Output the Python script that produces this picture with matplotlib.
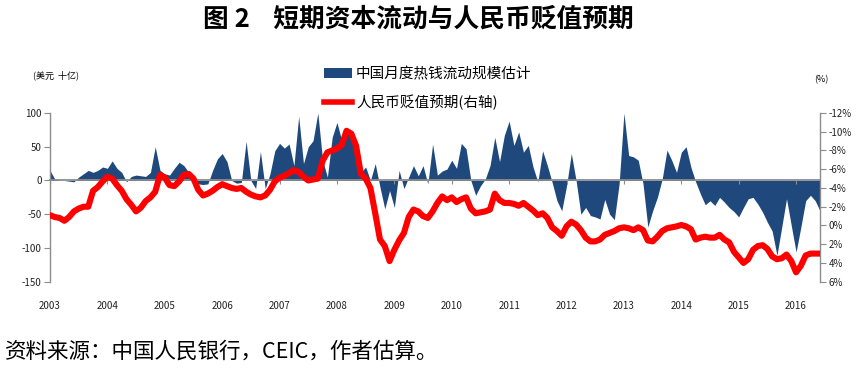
import matplotlib
matplotlib.use("Agg")
import matplotlib.pyplot as plt
from matplotlib.patches import Patch
from matplotlib.lines import Line2D
import numpy as np

plt.rcParams['font.family'] = ['Noto Sans CJK SC', 'DejaVu Sans']
plt.rcParams['axes.unicode_minus'] = False

# ---------------- data (monthly, Jan 2003 - Jun 2016) ----------------
start_year = 2003
hot_money = [
    15, 2, 0, 0, -1, -2, 5, 10, 15, 12, 15, 20,
    18, 29, 18, 12, -2, 6, 8, 7, 6, 12, 50, 15,
    10, 8, 18, 27, 22, 12, 0, -5, -6, -5, 15, 32,
    40, 28, 0, -4, -3, 58, 0, -12, 43, -12, 10, 44,
    55, 48, 54, 22, 95, 25, 50, 59, 100, 30, 5, 64,
    86, 59, 70, 66, 44, 12, 20, 0, 25, -10, -42, -15,
    -40, 15, -12, 5, 22, 7, 22, -5, 54, 8, 14, 17,
    30, 18, 55, 47, 0, -22, -8, 2, 22, 64, 28, 67,
    88, 52, 72, 42, 52, 20, -2, 44, 22, -3, -30, -45,
    -8, 40, 0, -50, -40, -52, -54, -57, -28, -50, -58, -5,
    100, 37, 35, 30, -5, -69, -45, -25, 2, 45, 30, 12,
    42, 50, 20, -2, -20, -36, -30, -37, -25, -32, -40, -46,
    -54, -40, -27, -25, -35, -47, -62, -75, -111, -69, -27, -67,
    -106, -69, -30, -22, -30, -45,
]
rmb_expect = [
    -1.1, -0.9, -0.8, -0.5, -0.9, -1.5, -1.8, -2.0, -2.0, -3.7, -4.1, -4.7,
    -5.2, -5.0, -4.3, -3.7, -2.8, -2.2, -1.5, -1.9, -2.6, -3.0, -3.6, -5.4,
    -5.1, -4.3, -4.2, -4.7, -5.4, -5.5, -5.0, -3.8, -3.2, -3.4, -3.7, -4.1,
    -4.4, -4.2, -4.0, -3.9, -4.0, -3.6, -3.3, -3.1, -3.0, -3.2, -3.8, -4.7,
    -5.1, -5.3, -5.6, -5.9, -5.7, -5.2, -4.8, -4.9, -5.0, -6.9, -7.8, -8.0,
    -8.2, -8.6, -10.1, -9.8, -8.5, -5.5, -5.0, -4.0, -1.3, 1.5, 2.2, 3.8,
    2.6, 1.6, 0.8, -0.9, -1.7, -1.5, -1.0, -0.8, -1.5, -2.4, -3.1, -2.7,
    -3.0, -2.5, -2.8, -3.0, -1.8, -1.3, -1.4, -1.5, -1.7, -3.4, -2.7, -2.4,
    -2.4, -2.3, -2.1, -2.4, -2.0, -1.6, -1.1, -1.3, -0.8, 0.2, 0.6, 1.1,
    0.1, -0.4, -0.1, 0.5, 1.3, 1.7, 1.7, 1.5, 1.0, 0.8, 0.6, 0.3,
    0.2, 0.3, 0.5, 0.2, 0.5, 1.6, 1.7, 1.2, 0.6, 0.3, 0.2, 0.1,
    -0.05, 0.1, 0.4, 1.5, 1.3, 1.2, 1.3, 1.3, 1.0, 1.5, 1.8, 2.8,
    3.4, 4.0, 3.6, 2.6, 2.2, 2.1, 2.5, 3.3, 3.6, 3.5, 3.1, 3.8,
    5.0, 4.3, 3.2, 3.0, 3.0, 3.0,
]
years = list(range(2003, 2017))
left_ticks = [100, 50, 0, -50, -100, -150]
right_ticks = [-12, -10, -8, -6, -4, -2, 0, 2, 4, 6]

title = "图 2    短期资本流动与人民币贬值预期"
source = "资料来源：中国人民银行，CEIC，作者估算。"
label_hot = "中国月度热钱流动规模估计"
label_rmb = "人民币贬值预期(右轴)"
left_unit = "(美元  十亿)"
right_unit = "(%)"

# ---------------- styling ----------------
navy = "#1f497d"
red = "#ff0000"
gray = "#8c8c8c"

n = len(hot_money)
x = start_year + np.arange(n) / 12.0

W, H = 864, 377
fig = plt.figure(figsize=(W / 100, H / 100), dpi=100)
ax = fig.add_axes([50 / W, (H - 281.7) / H, 770 / W, 168.7 / H])

ax.fill_between(x, 0, hot_money, color=navy, linewidth=0, zorder=1)
ax.set_xlim(x[0], x[-1])
ax.set_ylim(-150, 100)
ax.set_yticks(left_ticks)
ax.set_yticklabels([str(v) for v in left_ticks])

for s in ['top', 'right']:
    ax.spines[s].set_visible(False)
ax.spines['left'].set_color(gray)
ax.spines['left'].set_linewidth(1.0)
ax.spines['bottom'].set_position(('data', 0))
ax.spines['bottom'].set_color(gray)
ax.spines['bottom'].set_linewidth(1.3)
ax.spines['bottom'].set_zorder(3)
ax.set_xticks(years)
ax.tick_params(axis='x', direction='out', length=3, color=gray, labelbottom=False)
ax.tick_params(axis='y', direction='out', length=4, color=gray, labelsize=7, pad=2, labelcolor='#222222')

sec = ax.secondary_xaxis(0)
sec.set_xticks(years)
sec.set_xticklabels([str(y) for y in years])
sec.spines['bottom'].set_visible(False)
sec.tick_params(length=0, labelsize=7, pad=14, labelcolor='#222222')

ax2 = ax.twinx()
ax2.plot(x, rmb_expect, color=red, linewidth=4.4, solid_capstyle='round', solid_joinstyle='round', zorder=5)
ax2.set_ylim(6, -12)
ax2.set_yticks(right_ticks)
ax2.set_yticklabels([f"{v}%" for v in right_ticks])
for s in ['top', 'left', 'bottom']:
    ax2.spines[s].set_visible(False)
ax2.spines['right'].set_color(gray)
ax2.spines['right'].set_linewidth(1.0)
ax2.tick_params(axis='y', direction='out', length=4, color=gray, labelsize=7, pad=2, labelcolor='#222222')

# legend
handles = [Patch(facecolor=navy, edgecolor='none'),
           Line2D([0], [0], color=red, linewidth=4)]
fig.legend(handles, [label_hot, label_rmb], loc='upper left',
           bbox_to_anchor=(318 / W, 1 - 61 / H), frameon=False,
           fontsize=10.5, handlelength=1.9, handletextpad=0.3, labelspacing=0.95,
           borderaxespad=0)

fig.text(418 / W, 1 - 19 / H, title, ha='center', va='center', fontsize=18.5, fontweight='bold')
fig.text(5 / W, 1 - 352 / H, source, ha='left', va='center', fontsize=15.5)
fig.text(33 / W, 1 - 75 / H, left_unit, ha='left', va='center', fontsize=6.5)
fig.text(814 / W, 1 - 80 / H, right_unit, ha='left', va='center', fontsize=6.5)

fig.savefig("out.png", dpi=100)
